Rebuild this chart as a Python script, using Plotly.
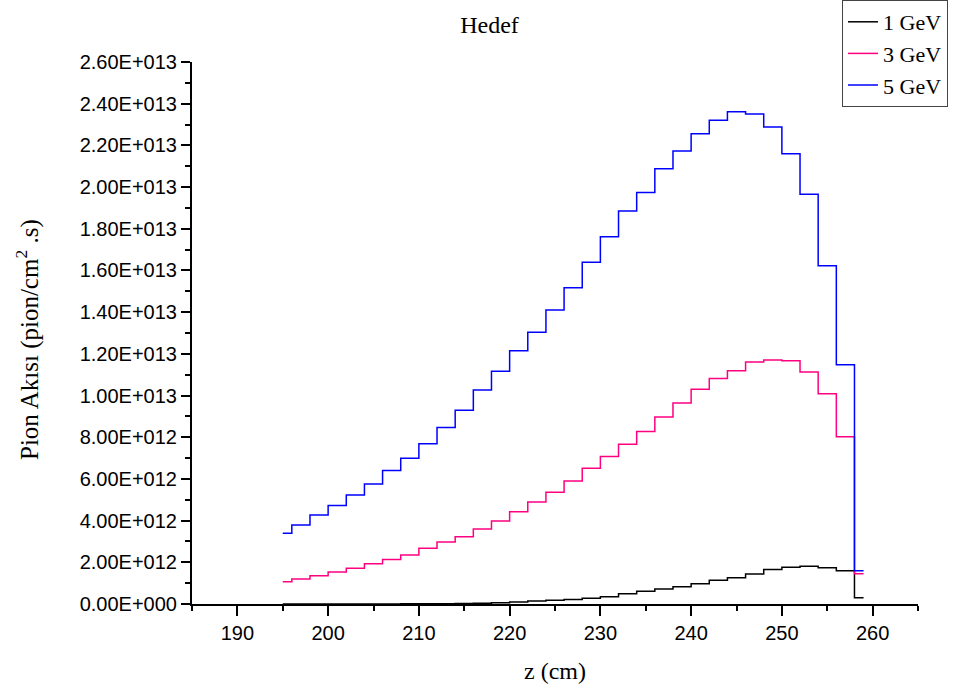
import plotly.graph_objects as go

# Data (x positions in cm, flux in units of 1e12 pion/cm^2.s)
z_cm = [195, 197, 199, 201, 203, 205, 207, 209, 211, 213, 215, 217, 219, 221, 223, 225,
        227, 229, 231, 233, 235, 237, 239, 241, 243, 245, 247, 249, 251, 253, 255, 257, 259]

flux_1gev = [0.0003, 0.0005, 0.001, 0.001, 0.002, 0.003, 0.005, 0.007, 0.01, 0.015, 0.02,
             0.03, 0.06, 0.10, 0.14, 0.18, 0.22, 0.27, 0.35, 0.49, 0.61, 0.72, 0.83, 0.97,
             1.14, 1.26, 1.44, 1.65, 1.76, 1.81, 1.74, 1.60, 0.30]

flux_3gev = [1.07, 1.20, 1.36, 1.53, 1.71, 1.93, 2.14, 2.35, 2.67, 2.97, 3.23, 3.60, 3.98,
             4.43, 4.89, 5.36, 5.90, 6.51, 7.07, 7.66, 8.28, 8.97, 9.64, 10.30, 10.82, 11.19,
             11.61, 11.70, 11.67, 11.13, 10.09, 8.02, 1.45]

flux_5gev = [3.39, 3.79, 4.27, 4.72, 5.23, 5.76, 6.41, 6.99, 7.69, 8.47, 9.29, 10.26, 11.17,
             12.15, 13.03, 14.10, 15.17, 16.39, 17.62, 18.85, 19.74, 20.88, 21.73, 22.56,
             23.21, 23.61, 23.50, 22.88, 21.60, 19.65, 16.23, 11.48, 1.60]

series_names = ["1 GeV", "3 GeV", "5 GeV"]
series_colors = ["#000000", "#FF0080", "#0000FF"]

y_tick_vals = [0, 2, 4, 6, 8, 10, 12, 14, 16, 18, 20, 22, 24, 26]
y_tick_text = ["0.00E+000", "2.00E+012", "4.00E+012", "6.00E+012", "8.00E+012",
               "1.00E+013", "1.20E+013", "1.40E+013", "1.60E+013", "1.80E+013",
               "2.00E+013", "2.20E+013", "2.40E+013", "2.60E+013"]

scale = 1e12

fig = go.Figure()
for name, color, vals in zip(series_names, series_colors, [flux_1gev, flux_3gev, flux_5gev]):
    fig.add_trace(go.Scatter(
        x=z_cm, y=[v * scale for v in vals], name=name, mode="lines",
        line=dict(color=color, width=1.5, shape="hvh"),
    ))

tick_font = dict(family="Liberation Sans, Arial, sans-serif", size=20, color="black")
serif = "Liberation Serif, Times New Roman, serif"

fig.update_layout(
    width=979, height=695,
    margin=dict(l=192, r=61, t=62, b=91, autoexpand=False),
    paper_bgcolor="white", plot_bgcolor="white",
    showlegend=True,
    title=dict(text="Hedef", x=0.5, xref="container", xanchor="center",
               y=1 - 25 / 695, yref="container", yanchor="middle",
               font=dict(family=serif, size=24, color="black")),
    legend=dict(xref="container", yref="container", x=842 / 979, y=1.0,
                xanchor="left", yanchor="top",
                font=dict(family=serif, size=22, color="black"),
                bgcolor="white", bordercolor="#444", borderwidth=1),
    xaxis=dict(range=[185, 265], tickmode="linear", tick0=190, dtick=10,
               showline=True, linecolor="black", linewidth=2,
               ticks="outside", ticklen=10, tickwidth=2, tickcolor="black",
               minor=dict(tickmode="linear", tick0=185, dtick=5, ticks="outside",
                          ticklen=5, tickwidth=2, tickcolor="black"),
               showgrid=False, zeroline=False, tickfont=tick_font),
    yaxis=dict(range=[0, 26 * scale], tickmode="array",
               tickvals=[v * scale for v in y_tick_vals], ticktext=y_tick_text,
               showline=True, linecolor="black", linewidth=2,
               ticks="outside", ticklen=9, tickwidth=2, tickcolor="black",
               minor=dict(tickmode="linear", tick0=0, dtick=scale, ticks="outside",
                          ticklen=5, tickwidth=2, tickcolor="black"),
               showgrid=False, zeroline=False, tickfont=tick_font),
    annotations=[
        dict(text="z (cm)", xref="paper", yref="paper", x=0.5, y=(604 - 671) / 542,
             xanchor="center", yanchor="middle", showarrow=False,
             font=dict(family=serif, size=24, color="black")),
        dict(text="Pion Akısı (pion/cm<sup>2</sup> .s)", xref="paper", yref="paper",
             x=(28 - 192) / 726, y=(604 - 340) / 542, textangle=-90,
             xanchor="center", yanchor="middle", showarrow=False,
             font=dict(family=serif, size=25, color="black")),
    ],
)

fig.write_html("out.html")
